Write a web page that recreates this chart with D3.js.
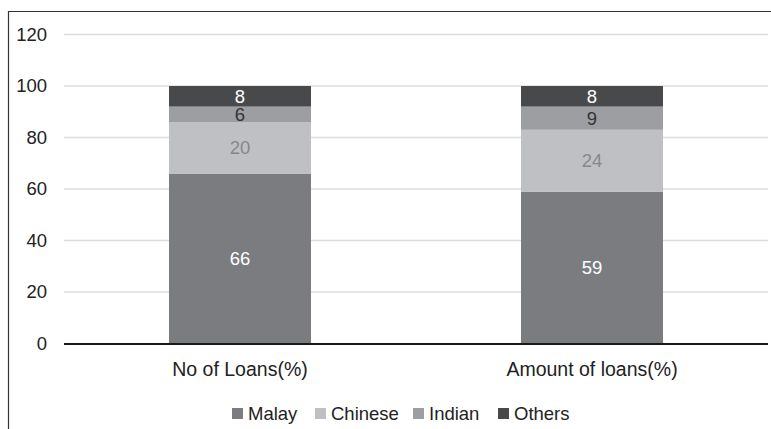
<!DOCTYPE html>
<html>
<head>
<meta charset="utf-8">
<script src="https://cdn.jsdelivr.net/npm/d3@7"></script>
<style>
  html, body { margin: 0; padding: 0; background: #fff; }
  svg { display: block; }
  text { font-family: "Liberation Sans", Arial, sans-serif; }
</style>
</head>
<body>
<svg id="chart" width="771" height="429"></svg>
<script>
const categories = ["No of Loans(%)", "Amount of loans(%)"];
const seriesNames = ["Malay", "Chinese", "Indian", "Others"];
const malay = [66, 59];
const chinese = [20, 24];
const indian = [6, 9];
const others = [8, 8];
const yTicks = [0, 20, 40, 60, 80, 100, 120];

const colors = ["#7b7c80", "#bfc0c4", "#9d9ea2", "#48494b"];
const labelColors = ["#ffffff", "#86878b", "#333333", "#ffffff"];

const svg = d3.select("#chart");
const W = 771, H = 429;
const FS = 18.5;

// border
svg.append("path")
  .attr("d", `M8.5,${H} V11.5 H${W}`)
  .attr("fill", "none").attr("stroke", "#333").attr("stroke-width", 1.2);

const x = d3.scaleBand().domain(categories).range([64, 768])
  .paddingInner(0.5966).paddingOuter(0.2983);
const y = d3.scaleLinear().domain([0, 120]).range([343.5, 34.5]);

// gridlines
svg.append("g").selectAll("line").data(yTicks.filter(d => d > 0)).join("line")
  .attr("x1", 64).attr("x2", 768)
  .attr("y1", d => y(d)).attr("y2", d => y(d))
  .attr("stroke", "#dcdcdc").attr("stroke-width", 1.5);

// y labels
svg.append("g").selectAll("text").data(yTicks).join("text")
  .attr("x", 47).attr("y", d => y(d)).attr("dy", "0.35em")
  .attr("text-anchor", "end").attr("font-size", FS).attr("fill", "#222")
  .text(d => d);

// stacked data
const rows = categories.map((c, i) => ({
  cat: c, Malay: malay[i], Chinese: chinese[i], Indian: indian[i], Others: others[i]
}));
const stack = d3.stack().keys(seriesNames)(rows);

const gBars = svg.append("g");
stack.forEach((layer, si) => {
  gBars.selectAll(null).data(layer).join("rect")
    .attr("x", d => x(d.data.cat))
    .attr("width", x.bandwidth())
    .attr("y", d => y(d[1]))
    .attr("height", d => y(d[0]) - y(d[1]))
    .attr("fill", colors[si]);
});
stack.forEach((layer, si) => {
  gBars.selectAll(null).data(layer).join("text")
    .attr("x", d => x(d.data.cat) + x.bandwidth() / 2)
    .attr("y", d => (y(d[0]) + y(d[1])) / 2)
    .attr("dy", "0.35em")
    .attr("text-anchor", "middle").attr("font-size", FS)
    .attr("fill", labelColors[si])
    .text(d => d[1] - d[0]);
});

// x axis line
svg.append("line")
  .attr("x1", 64).attr("x2", 768).attr("y1", 344).attr("y2", 344)
  .attr("stroke", "#1a1a1a").attr("stroke-width", 2);

// category labels
svg.append("g").selectAll("text").data(categories).join("text")
  .attr("x", d => x(d) + x.bandwidth() / 2).attr("y", 369).attr("dy", "0.35em")
  .attr("text-anchor", "middle").attr("font-size", 19.5).attr("fill", "#222")
  .text(d => d);

// legend
const legendX = [232, 315, 413, 498];
const lg = svg.append("g");
seriesNames.forEach((s, i) => {
  lg.append("rect").attr("x", legendX[i]).attr("y", 408).attr("width", 11).attr("height", 11)
    .attr("fill", colors[i]);
  lg.append("text").attr("x", legendX[i] + 16).attr("y", 413.5).attr("dy", "0.35em")
    .attr("font-size", FS).attr("fill", "#222").text(s);
});
</script>
</body>
</html>
